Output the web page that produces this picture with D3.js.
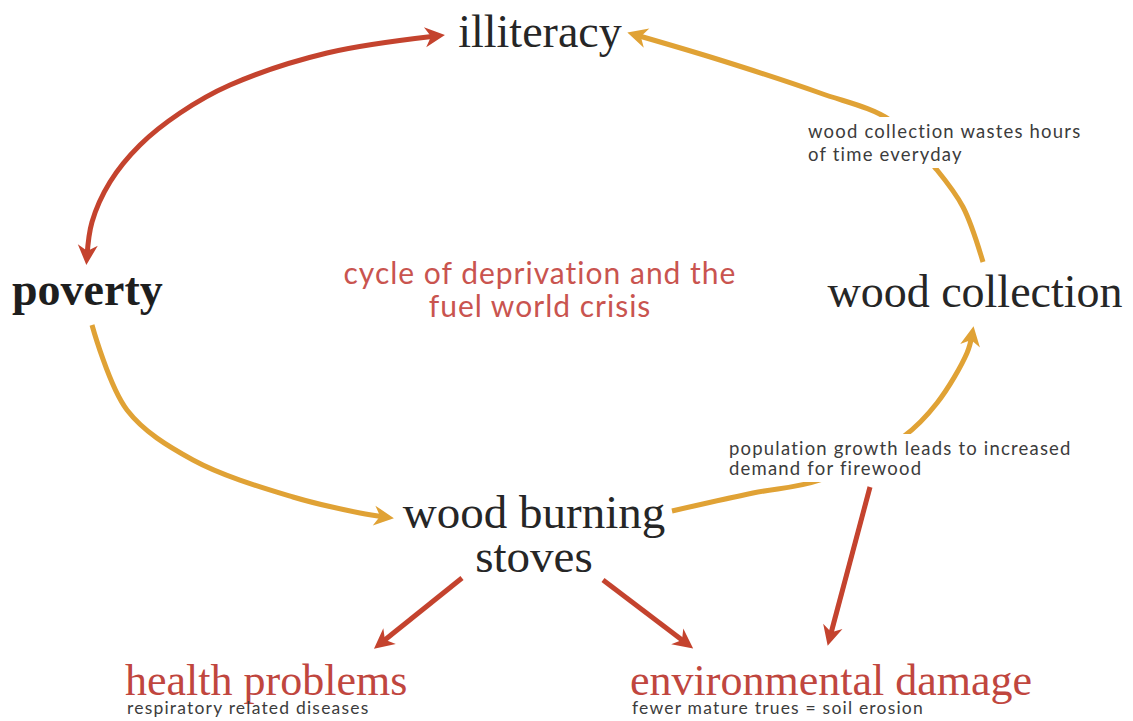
<!DOCTYPE html>
<html>
<head>
<meta charset="utf-8">
<script src="https://cdn.jsdelivr.net/npm/d3@7"></script>
<style>
  html, body { margin: 0; padding: 0; background: #fff; }
  svg { display: block; }
</style>
</head>
<body>
<svg id="diagram" width="1133" height="721"></svg>
<script>
(function() {
  // node labels of the cycle
  const nodeIds = ['illiteracy', 'poverty', 'collection', 'stoves', 'health', 'environment'];
  const nodeLines = [
    ['illiteracy'],
    ['poverty'],
    ['wood collection'],
    ['wood burning', 'stoves'],
    ['health problems'],
    ['environmental damage']
  ];
  const nodeNotes = ['', '', '', '', 'respiratory related diseases', 'fewer mature trues = soil erosion'];

  const titleLines = ['cycle of deprivation and the', 'fuel world crisis'];
  const annotations = [
    ['wood collection wastes hours', 'of time everyday'],
    ['population growth leads to increased', 'demand for firewood']
  ];

  // links: source, target, kind ('cycle' = yellow, 'harm' = red), both ends?
  const linkSource = ['poverty', 'collection', 'poverty', 'stoves', 'stoves', 'stoves', 'annotation2'];
  const linkTarget = ['illiteracy', 'illiteracy', 'stoves', 'collection', 'health', 'environment', 'environment'];
  const linkKind = ['harm', 'cycle', 'cycle', 'cycle', 'harm', 'harm', 'harm'];
  const linkBoth = [true, false, false, false, false, false, false];

  // ---- layout (design grid of the original artwork) ----
  const W = 1133, H = 721;
  const x = d3.scaleLinear().domain([0, 1133]).range([0, W]);
  const y = d3.scaleLinear().domain([0, 721]).range([0, H]);

  const nodeLayout = {
    illiteracy:  {x: 540, y: 47,  anchor: 'middle', size: 46, weight: 400, color: '#262626', lead: 0},
    poverty:     {x: 12,  y: 305, anchor: 'start',  size: 46, weight: 700, color: '#1e1e1e', lead: 0},
    collection:  {x: 975, y: 307, anchor: 'middle', size: 46, weight: 400, color: '#262626', lead: 0},
    stoves:      {x: 534, y: 528, anchor: 'middle', size: 47, weight: 400, color: '#262626', lead: 44},
    health:      {x: 125, y: 695, anchor: 'start',  size: 44, weight: 400, color: '#c0463e', lead: 0},
    environment: {x: 630, y: 695, anchor: 'start',  size: 44, weight: 400, color: '#c0463e', lead: 0}
  };
  const noteOffset = 19;

  const titleLayout = {x: 540, y: 284, lead: 33, size: 30};
  const annotationLayout = [
    {x: 808, y: 138, lead: 23},
    {x: 729, y: 455, lead: 20}
  ];

  // way points of each connector, in the design grid
  const linkRoutes = [
    [[87, 256], [92, 222], [110, 182], [140, 145], [180, 113], [230, 85], [327, 53], [436, 36]],
    [[983, 262], [963, 207], [937, 170], [890, 120], [820, 93], [720, 60], [636, 35]],
    [[92, 325], [127, 410], [193, 460], [293, 497], [360, 513], [385, 517]],
    [[672, 511], [753, 493], [820, 480], [903, 437], [937, 403], [967, 353], [972, 335]],
    [[462, 578], [381, 643]],
    [[603, 580], [686, 643]],
    [[870, 487], [830, 637]]
  ];

  const colors = {cycle: '#e0a235', harm: '#c4432e'};
  const serif = '"Liberation Serif", "DejaVu Serif", serif';
  const sans = 'Lato, "Noto Sans", sans-serif';

  const svg = d3.select('#diagram');
  const defs = svg.append('defs');

  Object.keys(colors).forEach(k => {
    defs.append('marker')
      .attr('id', 'head-' + k)
      .attr('viewBox', '-12 -11 22 22')
      .attr('refX', 0)
      .attr('refY', 0)
      .attr('markerUnits', 'userSpaceOnUse')
      .attr('markerWidth', 22)
      .attr('markerHeight', 22)
      .attr('orient', 'auto-start-reverse')
      .append('path')
      .attr('d', 'M-11,-10 L9,0 L-11,10 L-5,0 Z')
      .attr('fill', colors[k]);
  });

  const line = d3.line()
    .x(d => x(d[0]))
    .y(d => y(d[1]))
    .curve(d3.curveCatmullRom.alpha(0.5));

  const links = linkSource.map((s, i) => ({
    source: s, target: linkTarget[i], kind: linkKind[i], both: linkBoth[i], route: linkRoutes[i]
  }));

  svg.append('g')
    .selectAll('path')
    .data(links)
    .enter()
    .append('path')
    .attr('d', d => line(d.route))
    .attr('fill', 'none')
    .attr('stroke', d => colors[d.kind])
    .attr('stroke-width', 5)
    .attr('marker-end', d => 'url(#head-' + d.kind + ')')
    .attr('marker-start', d => d.both ? 'url(#head-' + d.kind + ')' : null);

  // annotations sit on white boxes so the arcs break behind them
  const notes = svg.append('g')
    .selectAll('g')
    .data(annotations)
    .enter()
    .append('g');
  notes.each(function(lines, i) {
    const g = d3.select(this);
    const pos = annotationLayout[i];
    const rect = g.append('rect').attr('fill', '#fff');
    const t = g.append('text')
      .attr('font-family', sans)
      .attr('font-size', 18.5)
      .attr('letter-spacing', 1.2)
      .attr('fill', '#3c3c3c');
    t.selectAll('tspan')
      .data(lines)
      .enter()
      .append('tspan')
      .attr('x', x(pos.x))
      .attr('y', (d, j) => y(pos.y) + j * pos.lead)
      .text(d => d);
    const b = t.node().getBBox();
    rect.attr('x', b.x - 4).attr('y', b.y - 3)
      .attr('width', b.width + 8).attr('height', b.height + 6);
  });

  // title in the middle
  svg.append('text')
    .attr('font-family', sans)
    .attr('font-size', titleLayout.size)
    .attr('letter-spacing', 1)
    .attr('text-anchor', 'middle')
    .attr('fill', '#c9544f')
    .selectAll('tspan')
    .data(titleLines)
    .enter()
    .append('tspan')
    .attr('x', x(titleLayout.x))
    .attr('y', (d, i) => y(titleLayout.y) + i * titleLayout.lead)
    .text(d => d);

  // nodes
  const nodes = svg.append('g')
    .selectAll('g')
    .data(nodeIds)
    .enter()
    .append('g');

  nodes.append('text')
    .attr('font-family', serif)
    .attr('font-size', d => nodeLayout[d].size)
    .attr('font-weight', d => nodeLayout[d].weight)
    .attr('text-anchor', d => nodeLayout[d].anchor)
    .attr('fill', d => nodeLayout[d].color)
    .each(function(d, i) {
      const L = nodeLayout[d];
      d3.select(this).selectAll('tspan')
        .data(nodeLines[i])
        .enter()
        .append('tspan')
        .attr('x', x(L.x))
        .attr('y', (t, j) => y(L.y) + j * L.lead)
        .text(t => t);
    });

  nodes.filter((d, i) => nodeNotes[i])
    .append('text')
    .attr('font-family', sans)
    .attr('font-size', 17.5)
    .attr('letter-spacing', 1.2)
    .attr('fill', '#3c3c3c')
    .attr('x', d => x(nodeLayout[d].x) + 2)
    .attr('y', d => y(nodeLayout[d].y) + noteOffset)
    .text(d => nodeNotes[nodeIds.indexOf(d)]);
})();
</script>
</body>
</html>
